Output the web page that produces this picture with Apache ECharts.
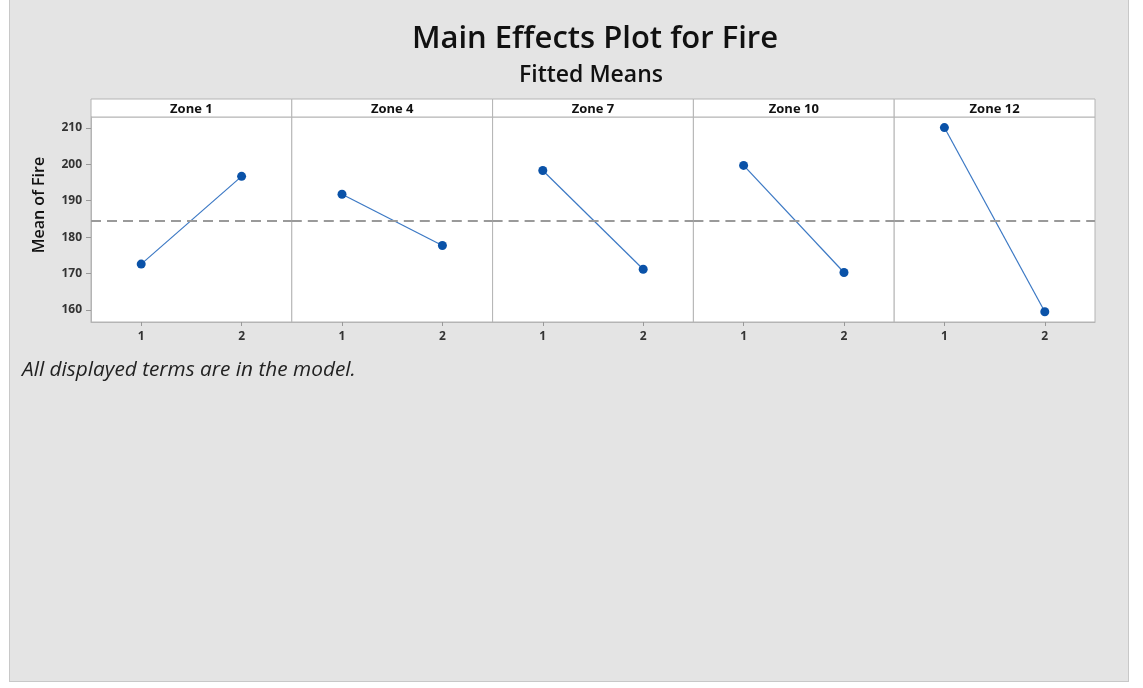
<!DOCTYPE html>
<html>
<head>
<meta charset="utf-8">
<script src="https://cdn.jsdelivr.net/npm/echarts@6/dist/echarts.min.js"></script>
<style>
  html, body { margin: 0; padding: 0; background: #ffffff; }
  #bg { position: absolute; left: 9px; top: -1px; width: 1120px; height: 683px; background: #e4e4e4; border: 1px solid #c8c8c8; box-sizing: border-box; }
  #chart { position: absolute; left: 0; top: 0; width: 1143px; height: 688px; }
</style>
</head>
<body>
<div id="bg"></div>
<div id="chart"></div>
<script>
// ---- data ----
const zones = ['Zone 1', 'Zone 4', 'Zone 7', 'Zone 10', 'Zone 12'];
const levels = ['1', '2'];
const fireLevel1 = [172.6, 191.8, 198.3, 199.7, 210.1];
const fireLevel2 = [196.7, 177.7, 171.2, 170.3, 159.5];
const grandMean = 184.6;
const yTicks = [160, 170, 180, 190, 200, 210];
const titleText = 'Main Effects Plot for Fire';
const subtitleText = 'Fitted Means';
const yName = 'Mean of Fire';
const footnote = 'All displayed terms are in the model.';

// ---- layout ----
const FONT = '"Open Sans", "Noto Sans", sans-serif';
const plotLeft = 91, plotRight = 1095, plotTop = 117, plotH = 205;
const stripTop = 99, stripH = 18;
const panelW = (plotRight - plotLeft) / zones.length;
const yMin = 156.7, yMax = 213.0;

const grids = [], xAxes = [], yAxes = [], series = [], graphics = [];
zones.forEach((z, i) => {
  const left = plotLeft + i * panelW;
  grids.push({ left: left, top: plotTop, width: panelW, height: plotH, show: true,
    backgroundColor: '#ffffff', borderColor: '#b4b4b4', borderWidth: 1, containLabel: false });
  xAxes.push({ type: 'category', gridIndex: i, data: levels, boundaryGap: true,
    axisLine: { show: true, lineStyle: { color: '#b4b4b4' } },
    axisTick: { show: true, alignWithLabel: true, length: 4, lineStyle: { color: '#999' } },
    axisLabel: { fontSize: 12, fontWeight: 'bold', color: '#333', margin: 9, fontFamily: FONT },
    splitLine: { show: false } });
  yAxes.push({ type: 'value', gridIndex: i, min: yMin, max: yMax, show: i === 0,
    axisLine: { show: true, lineStyle: { color: '#b4b4b4' } },
    axisTick: { show: true, length: 5, customValues: yTicks, lineStyle: { color: '#999' } },
    axisLabel: { customValues: yTicks, fontSize: 12, fontWeight: 'bold', color: '#333', margin: 9, fontFamily: FONT },
    splitLine: { show: false } });
  series.push({ type: 'line', xAxisIndex: i, yAxisIndex: i, name: z,
    data: [fireLevel1[i], fireLevel2[i]],
    symbol: 'circle', symbolSize: 9,
    itemStyle: { color: '#0a52a8' },
    lineStyle: { width: 1.2, color: '#3b78c4' },
    silent: true, animation: false,
    markLine: { silent: true, symbol: 'none', animation: false,
      label: { show: false },
      lineStyle: { type: [10, 6], color: '#9a9a9a', width: 2 },
      data: [{ yAxis: grandMean }] } });
  graphics.push({ type: 'rect', shape: { x: left, y: stripTop, width: panelW, height: stripH },
    style: { fill: '#ffffff', stroke: '#b4b4b4', lineWidth: 1 } });
  graphics.push({ type: 'text', x: left + panelW / 2, y: stripTop + stripH / 2 + 1,
    style: { text: z, align: 'center', verticalAlign: 'middle', font: 'bold 13px ' + FONT, fill: '#111' } });
});

graphics.push({ type: 'text', x: 595, y: 39,
  style: { text: titleText, align: 'center', verticalAlign: 'middle', font: '600 31px ' + FONT, fill: '#111' } });
graphics.push({ type: 'text', x: 591, y: 75,
  style: { text: subtitleText, align: 'center', verticalAlign: 'middle', font: '600 23px ' + FONT, fill: '#111' } });
graphics.push({ type: 'text', x: 39, y: 205, rotation: Math.PI / 2,
  style: { text: yName, align: 'center', verticalAlign: 'middle', font: '600 16px ' + FONT, fill: '#111' } });
graphics.push({ type: 'text', x: 22, y: 370,
  style: { text: footnote, align: 'left', verticalAlign: 'middle', font: 'italic 20.8px ' + FONT, fill: '#222' } });

const chart = echarts.init(document.getElementById('chart'), null, { renderer: 'canvas' });
chart.setOption({
  backgroundColor: 'transparent',
  animation: false,
  grid: grids, xAxis: xAxes, yAxis: yAxes, series: series,
  graphic: { elements: graphics }
});
</script>
</body>
</html>
